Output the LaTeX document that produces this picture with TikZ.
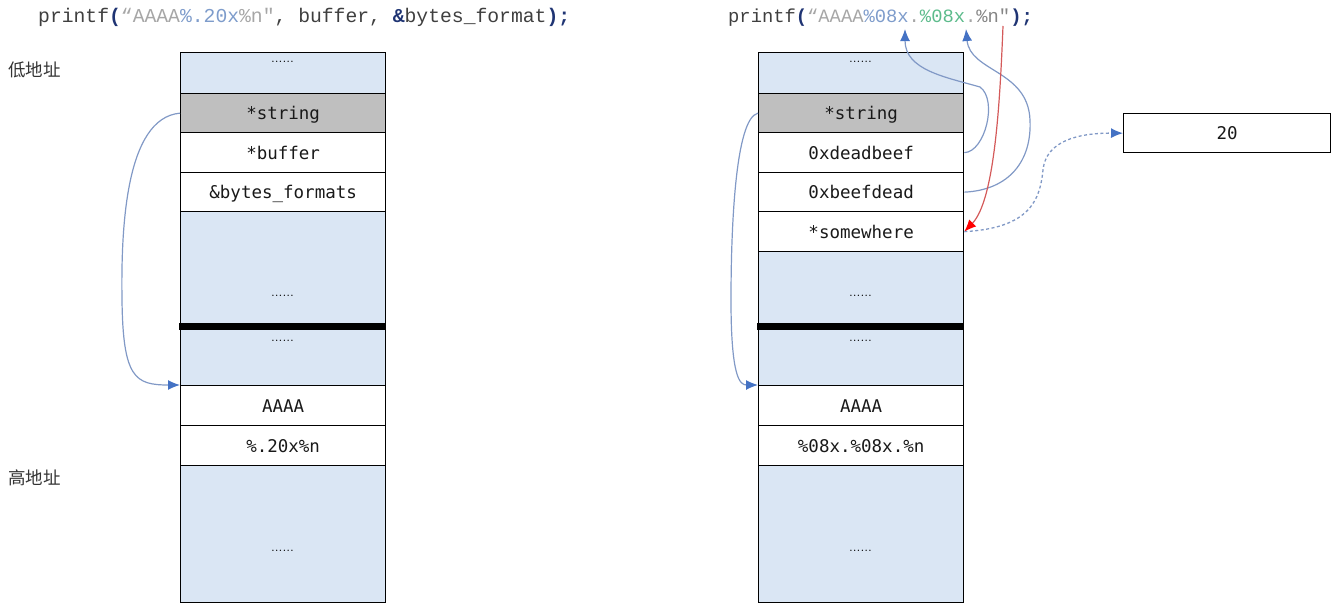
\documentclass[tikz,border=0pt]{standalone}
\usepackage{fontspec}
\usetikzlibrary{arrows.meta}
\newfontfamily\codefont{Liberation Mono}
\newfontfamily\cellfont{DejaVu Sans Mono}
\newfontfamily\cjkfont{Noto Sans CJK SC}
\definecolor{cellblue}{HTML}{DAE6F4}
\definecolor{cellgray}{HTML}{BFBFBF}
\definecolor{linkblue}{HTML}{8199C6}
\definecolor{tipblue}{HTML}{4472C4}
\definecolor{linkred}{HTML}{D45A5A}
\definecolor{navy}{HTML}{1F3473}
\definecolor{codegray}{HTML}{3F3F3F}
\definecolor{strgray}{HTML}{A6A6A6}
\definecolor{strblue}{HTML}{7E9CCB}
\definecolor{strgreen}{HTML}{5DBB8C}
\tikzset{
  cell/.style={draw=black, line width=1.3pt, anchor=north west, minimum width=205pt, inner sep=0pt, text height=15pt, text depth=2pt, font=\cellfont\fontsize{17.5}{17.5}\selectfont, text=black!90},
  dotsnode/.style={inner sep=0pt, font=\fontsize{14}{14}\selectfont},
  codetext/.style={anchor=base west, inner sep=0pt, font=\codefont\fontsize{19.7}{19.7}\selectfont, text=codegray},
  cjklabel/.style={anchor=west, inner sep=0pt, font=\cjkfont\fontsize{17.5}{17.5}\selectfont, text=black!80},
  link/.style={draw=linkblue, line width=1.2pt, -{Latex[length=12pt,width=10pt,color=tipblue,fill=tipblue]}},
  redlink/.style={draw=linkred, line width=1.2pt, -{Latex[length=12pt,width=10pt,color=red,fill=red]}},
  dashlink/.style={draw=linkblue, line width=1.3pt, dash pattern=on 3pt off 2.5pt, -{Latex[length=12pt,width=10pt,color=tipblue,fill=tipblue]}},
  sepbar/.style={fill=black, draw=none}
}
\begin{document}
\begin{tikzpicture}[x=1pt,y=-1pt]
\useasboundingbox (0,0) rectangle (1334,605);
% code lines
\node[codetext] (codeL) at (38,22) {printf\textcolor{navy}{\textbf{(}}\textcolor{strgray}{“AAAA}\textcolor{strblue}{\%.20x}\textcolor{strgray}{\%n"}, buffer, \textcolor{navy}{\textbf{\&}}bytes\_format\textcolor{navy}{\textbf{);}}};
\node[codetext, font=\codefont\fontsize{18.8}{18.8}\selectfont] (codeR) at (728,22) {printf\textcolor{navy}{\textbf{(}}\textcolor{strgray}{“AAAA}\textcolor{strblue}{\%08x}\textcolor{strgray}{.}\textcolor{strgreen}{\%08x}\textcolor{strgray}{.}\textcolor{strgray!80!black}{\%n"}\textcolor{navy}{\textbf{);}}};
% labels
\node[cjklabel] (low) at (8,70) {低地址};
\node[cjklabel] (high) at (8,478) {高地址};
% left column
\node[cell, fill=cellblue, minimum height=41pt] (L0) at (180,52) {};
\node[cell, fill=cellgray, minimum height=39pt] (L1) at (180,93) {*string};
\node[cell, fill=white, minimum height=40pt] (L2) at (180,132) {*buffer};
\node[cell, fill=white, minimum height=39pt] (L3) at (180,172) {\&bytes\_formats};
\node[cell, fill=cellblue, minimum height=112pt] (L4) at (180,211) {};
\node[cell, fill=cellblue, minimum height=56pt] (L5) at (180,329) {};
\node[cell, fill=cellblue, minimum height=137pt] (L8) at (180,465) {};
\node[cell, fill=white, minimum height=40pt] (L6) at (180,385) {AAAA};
\node[cell, fill=white, minimum height=40pt] (L7) at (180,425) {\%.20x\%n};
\fill[sepbar] (179.35,322.5) rectangle (385.65,329.5);
\node[dotsnode] (dL0) at (282.5,62) {......};
\node[dotsnode] (dL4) at (282.5,296) {......};
\node[dotsnode] (dL5) at (282.5,341) {......};
\node[dotsnode] (dL8) at (282.5,551) {......};
% right column
\node[cell, fill=cellblue, minimum height=41pt] (R0) at (758,52) {};
\node[cell, fill=cellgray, minimum height=39pt] (R1) at (758,93) {*string};
\node[cell, fill=white, minimum height=40pt] (R2) at (758,132) {0xdeadbeef};
\node[cell, fill=white, minimum height=39pt] (R3) at (758,172) {0xbeefdead};
\node[cell, fill=white, minimum height=40pt] (R4) at (758,211) {*somewhere};
\node[cell, fill=cellblue, minimum height=72pt] (R5) at (758,251) {};
\node[cell, fill=cellblue, minimum height=56pt] (R6) at (758,329) {};
\node[cell, fill=cellblue, minimum height=137pt] (R9) at (758,465) {};
\node[cell, fill=white, minimum height=40pt] (R7) at (758,385) {AAAA};
\node[cell, fill=white, minimum height=40pt] (R8) at (758,425) {\%08x.\%08x.\%n};
\fill[sepbar] (757.35,322.5) rectangle (963.65,329.5);
\node[dotsnode] (dR0) at (860.5,62) {......};
\node[dotsnode] (dR5) at (860.5,296) {......};
\node[dotsnode] (dR6) at (860.5,341) {......};
\node[dotsnode] (dR9) at (860.5,551) {......};
% value box
\node[cell, fill=white, minimum height=39pt, minimum width=207pt] (B) at (1123,113) {20};
% target points in the format string
\coordinate (fmtA) at (905,29);
\coordinate (fmtB) at (966,29);
\coordinate (fmtN) at (1003,26);
% links
\draw[link] (L1.west) .. controls (125,118) and (121,230) .. (122,300) .. controls (123,378) and (135,385) .. (L6.north west);
\draw[link] (R1.west) .. controls (735,118) and (731,230) .. (731,300) .. controls (731,378) and (740,385) .. (R7.north west);
\draw[link] (R2.east) .. controls (985,152) and (998,100) .. (980,87) .. controls (945,77) and (905,70) .. (fmtA);
\draw[link] (R3.east) .. controls (1010,190) and (1032,160) .. (1030,120) .. controls (1028,70) and (970,72) .. (fmtB);
\draw[redlink] (fmtN) .. controls (1000,100) and (995,200) .. (R4.east);
\draw[dashlink] (R4.east) .. controls (1030,228) and (1040,200) .. (1043,170) .. controls (1046,140) and (1080,133) .. (B.west);
\end{tikzpicture}
\end{document}
